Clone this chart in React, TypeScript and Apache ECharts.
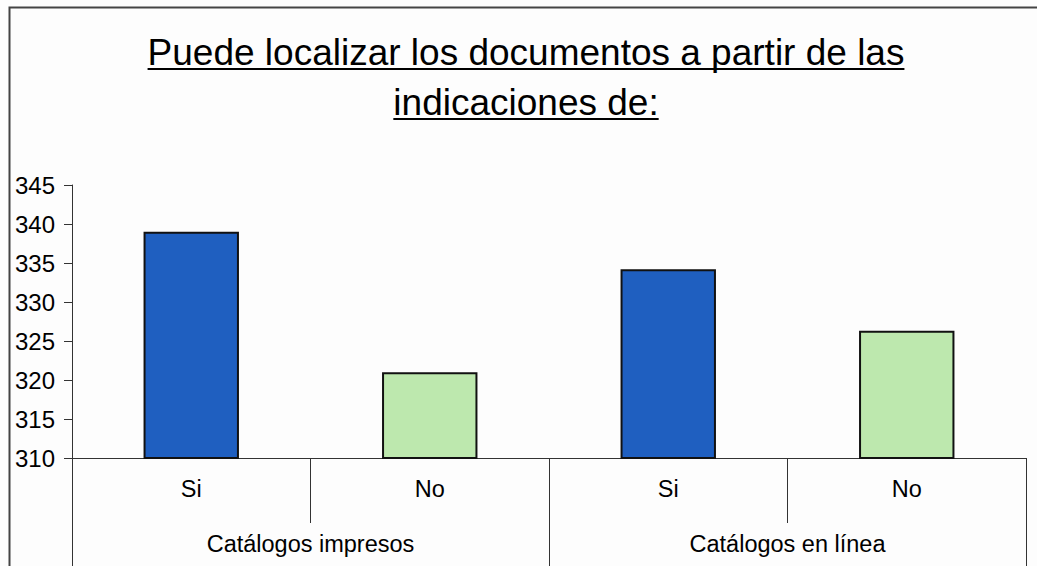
import React, { useEffect, useRef } from "react";
import * as echarts from "echarts";

const titleLines = ["Puede localizar los documentos a partir de las", "indicaciones de:"];
const categories = ["Si", "No", "Si", "No"];
const groups = ["Catálogos impresos", "Catálogos en línea"];
const values = [339, 321, 334.2, 326.3];
const yMin = 310;
const yMax = 345;
const yStep = 5;

const FONT = '"Liberation Sans", Arial, sans-serif';
const BLUE = "#1f5fc0";
const GREEN = "#bde8ae";
const TITLE_SIZE = 37;

function measure(text: string, size: number): number {
  const c = document.createElement("canvas").getContext("2d");
  if (!c) return text.length * size * 0.5;
  c.font = `${size}px ${FONT}`;
  return c.measureText(text).width;
}

export default function App() {
  const ref = useRef<HTMLDivElement>(null);
  useEffect(() => {
    if (!ref.current) return;
    const chart = echarts.init(ref.current, null, { renderer: "svg" });
    const cx = 526;
    const baselines = [65, 115];
    const graphics: any[] = [
      {
        type: "rect",
        left: 7,
        top: 5,
        shape: { width: 1040, height: 570 },
        style: { fill: "none", stroke: "#444", lineWidth: 2 },
        silent: true,
      },
    ];
    titleLines.forEach((t, i) => {
      const w = measure(t, TITLE_SIZE);
      graphics.push({
        type: "text",
        x: cx,
        y: baselines[i] - TITLE_SIZE * 0.346,
        style: {
          text: t,
          font: `${TITLE_SIZE}px ${FONT}`,
          fill: "#000",
          align: "center",
          verticalAlign: "middle",
          textAlign: "center",
          textVerticalAlign: "middle",
        },
      });
      graphics.push({
        type: "line",
        shape: { x1: cx - w / 2, y1: baselines[i] + 4, x2: cx + w / 2, y2: baselines[i] + 4 },
        style: { stroke: "#000", lineWidth: 2 },
      });
    });

    chart.setOption({
      animation: false,
      backgroundColor: "#fdfdfd",
      textStyle: { fontFamily: FONT },
      grid: { left: 72, right: 11, top: 185, bottom: 108, containLabel: false },
      xAxis: [
        {
          type: "category",
          data: categories,
          position: "bottom",
          axisLine: { show: true, lineStyle: { color: "#333", width: 1 } },
          axisTick: { show: true, length: 65, interval: 0, lineStyle: { color: "#333" } },
          axisLabel: { fontSize: 23.5, color: "#000", margin: 19, fontFamily: FONT, interval: 0 },
          splitLine: { show: false },
        },
        {
          type: "category",
          data: groups,
          position: "bottom",
          gridIndex: 0,
          axisLine: { show: false },
          axisTick: { show: true, length: 112, interval: 0, lineStyle: { color: "#333" } },
          axisLabel: { fontSize: 23.5, color: "#000", margin: 74, fontFamily: FONT, interval: 0 },
          splitLine: { show: false },
        },
      ],
      yAxis: {
        type: "value",
        min: yMin,
        max: yMax,
        interval: yStep,
        axisLine: { show: true, lineStyle: { color: "#333", width: 1 } },
        axisTick: { show: true, length: 8, lineStyle: { color: "#333" } },
        axisLabel: { fontSize: 24, color: "#000", margin: 17, fontFamily: FONT },
        splitLine: { show: false },
      },
      series: [
        {
          type: "bar",
          xAxisIndex: 0,
          barWidth: "40%",
          data: values.map((v, i) => ({
            value: v,
            itemStyle: {
              color: categories[i] === "Si" ? BLUE : GREEN,
              borderColor: "#111",
              borderWidth: 2,
            },
          })),
        },
      ],
      graphic: graphics,
    });
    return () => chart.dispose();
  }, []);
  return (
    <div
      ref={ref}
      style={{ position: "fixed", left: 0, top: 0, width: 1037, height: 566 }}
    />
  );
}
